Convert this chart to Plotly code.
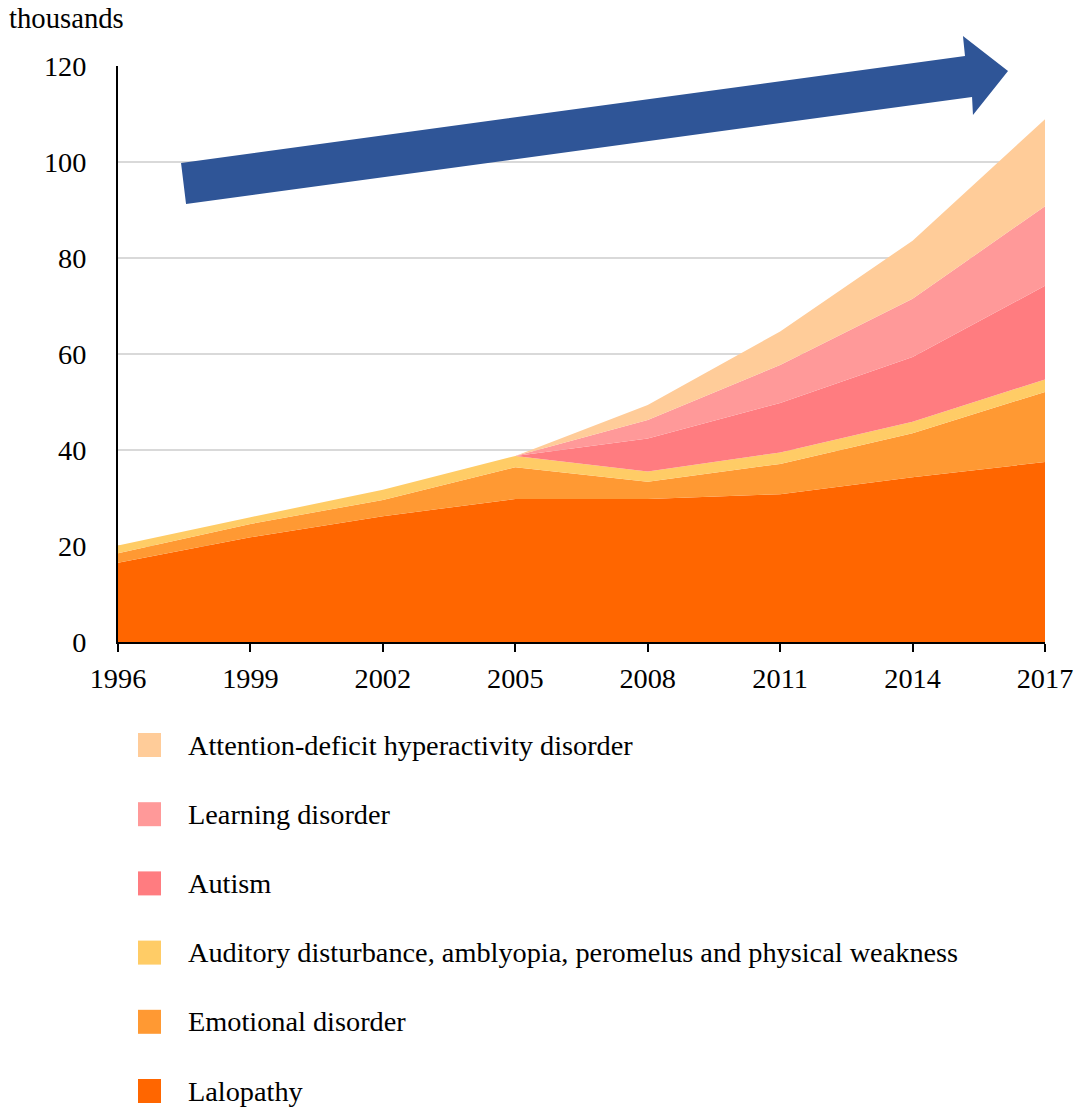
import plotly.graph_objects as go

# Pupils receiving special instruction in resource rooms (thousands)
years = [1996, 1999, 2002, 2005, 2008, 2011, 2014, 2017]
lalopathy = [16.5, 21.8, 26.2, 29.8, 29.8, 30.8, 34.3, 37.5]
emotional = [2.0, 2.8, 3.4, 6.6, 3.6, 6.3, 9.2, 14.6]
auditory = [1.6, 1.4, 2.1, 2.35, 2.1, 2.4, 2.4, 2.6]
autism = [0, 0, 0, 0, 6.9, 10.3, 13.5, 19.5]
learning = [0, 0, 0, 0, 3.85, 7.9, 12.1, 16.6]
adhd = [0, 0, 0, 0, 3.15, 7.0, 12.1, 18.1]

series_names = [
    "Lalopathy",
    "Emotional disorder",
    "Auditory disturbance, amblyopia, peromelus and physical weakness",
    "Autism",
    "Learning disorder",
    "Attention-deficit hyperactivity disorder",
]
series_values = [lalopathy, emotional, auditory, autism, learning, adhd]
series_colors = ["#FF6600", "#FF9933", "#FFCC66", "#FF7C80", "#FF9999", "#FFCC99"]

x_ticks = [1996, 1999, 2002, 2005, 2008, 2011, 2014, 2017]
y_ticks = [0, 20, 40, 60, 80, 100, 120]

FONT = "Liberation Serif, Times New Roman, serif"
FS = 28.3
W, H = 1080, 1108
ML, MR, MT, MB = 118, 35, 66, 466
PW, PH = W - ML - MR, H - MT - MB


def to_paper(px, py):
    """Convert page pixel position to paper coordinates."""
    return (px - ML) / PW, (H - MB - py) / PH


fig = go.Figure()
for name, vals, col in zip(series_names, series_values, series_colors):
    fig.add_trace(go.Scatter(
        x=years, y=vals, name=name, mode="lines",
        stackgroup="one", line=dict(width=0, color=col),
        fillcolor=col, showlegend=False, hoverinfo="skip",
    ))

# Trend arrow drawn over the chart
arrow_px = [(181, 163), (965, 56), (963, 36), (1008, 71),
            (973, 115), (972, 97), (186, 204)]
pts = [to_paper(*p) for p in arrow_px]
path = "M " + " L ".join(f"{x:.4f},{y:.4f}" for x, y in pts) + " Z"
shapes = [dict(type="path", xref="paper", yref="paper", path=path,
               fillcolor="#2F5597", line=dict(width=0), layer="above")]

# Legend block below the plot, top entry first
annotations = []
row_top, row_step = 745, 69.2
for i, (name, col) in enumerate(zip(series_names[::-1], series_colors[::-1])):
    cy = row_top + i * row_step
    x0, y0 = to_paper(138, cy - 12)
    x1, y1 = to_paper(161, cy + 12)
    shapes.append(dict(type="rect", xref="paper", yref="paper",
                       x0=x0, x1=x1, y0=y1, y1=y0,
                       fillcolor=col, line=dict(width=0)))
    tx, ty = to_paper(186, cy)
    annotations.append(dict(text=name, xref="paper", yref="paper", x=tx, y=ty,
                            xanchor="left", yanchor="middle", showarrow=False,
                            font=dict(family=FONT, size=FS, color="#000000")))

ux, uy = to_paper(7, 18)
annotations.append(dict(text="thousands", xref="paper", yref="paper", x=ux, y=uy,
                        xanchor="left", yanchor="middle", showarrow=False,
                        font=dict(family=FONT, size=FS + 0.4, color="#000000")))

fig.update_layout(
    width=W, height=H,
    margin=dict(l=ML, r=MR, t=MT, b=MB, autoexpand=False),
    paper_bgcolor="white", plot_bgcolor="white",
    font=dict(family=FONT, size=FS, color="#000000"),
    showlegend=False,
    shapes=shapes, annotations=annotations,
    xaxis=dict(range=[1996, 2017], tickmode="array", tickvals=x_ticks,
               ticktext=[str(t) for t in x_ticks], automargin=False,
               showgrid=False, zeroline=False,
               showline=True, linecolor="#000000", linewidth=2,
               ticks="outside", ticklen=8, tickwidth=2, tickcolor="#000000",
               ticklabelstandoff=2),
    yaxis=dict(range=[0, 120], tickmode="array", tickvals=y_ticks,
               automargin=False,
               showgrid=True, gridcolor="#D9D9D9", gridwidth=1.5,
               zeroline=False, showline=True, linecolor="#000000", linewidth=2,
               ticks="", ticklabelstandoff=24),
)

fig.write_html("out.html")
